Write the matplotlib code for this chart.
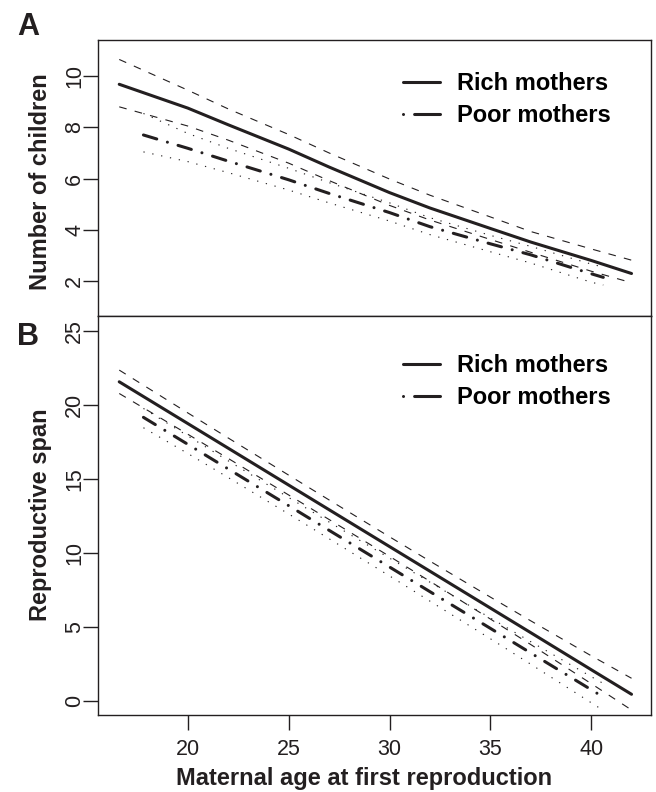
import matplotlib
matplotlib.use('Agg')
import matplotlib.pyplot as plt
from matplotlib.lines import Line2D

plt.rcParams['font.family'] = ['Liberation Sans', 'DejaVu Sans']
plt.rcParams['lines.scale_dashes'] = False

INK = '#231f20'

# Panel A: number of children vs maternal age at first reproduction
rich_age = [16.6, 20, 22, 25, 27, 30, 32, 35, 37, 40, 42]
rich_children = [9.68, 8.75, 8.10, 7.15, 6.45, 5.45, 4.85, 4.05, 3.52, 2.80, 2.29]
rich_children_hi = [10.65, 9.45, 8.72, 7.72, 7.00, 5.98, 5.35, 4.50, 3.93, 3.25, 2.81]
rich_children_lo = [8.80, 8.05, 7.50, 6.60, 5.92, 4.95, 4.38, 3.62, 3.12, 2.38, 1.93]

poor_age = [17.8, 20, 22, 25, 27, 30, 32, 35, 37, 40, 40.6]
poor_children = [7.70, 7.18, 6.68, 5.95, 5.42, 4.67, 4.12, 3.45, 3.02, 2.28, 2.14]
poor_children_hi = [8.54, 7.76, 7.18, 6.40, 5.84, 5.05, 4.47, 3.78, 3.35, 2.66, 2.54]
poor_children_lo = [7.04, 6.66, 6.23, 5.55, 5.05, 4.34, 3.81, 3.14, 2.70, 1.95, 1.84]

# Panel B: reproductive span
rich_span = [21.57, 18.75, 17.09, 14.60, 12.94, 10.45, 8.79, 6.30, 4.64, 2.14, 0.48]
rich_span_hi = [22.36, 19.47, 17.78, 15.27, 13.60, 11.11, 9.47, 7.04, 5.44, 3.08, 1.56]
rich_span_lo = [20.78, 18.03, 16.40, 13.93, 12.28, 9.79, 8.11, 5.56, 3.84, 1.20, -0.58]

poor_span = [19.17, 17.35, 15.69, 13.21, 11.55, 9.07, 7.41, 4.93, 3.27, 0.79, 0.29]
poor_span_hi = [19.77, 17.92, 16.24, 13.76, 12.11, 9.67, 8.05, 5.63, 4.03, 1.67, 1.21]
poor_span_lo = [18.47, 16.73, 15.11, 12.65, 10.98, 8.47, 6.77, 4.23, 2.51, -0.09, -0.61]

legend_labels = ['Rich mothers', 'Poor mothers']

# line styles (R-like)
solid = dict(color=INK, lw=2.2, solid_capstyle='round')
dashdot = dict(color=INK, lw=2.2, dashes=(10, 8, 0.01, 8), dash_capstyle='round')
dashed = dict(color=INK, lw=0.8, dashes=(5.5, 6))
dotted = dict(color=INK, lw=0.8, dashes=(0.9, 5.6))


def draw_panel(ax, r, r_hi, r_lo, p, p_hi, p_lo, legend_top):
    ax.plot(rich_age, r_hi, **dashed)
    ax.plot(rich_age, r_lo, **dashed)
    ax.plot(poor_age, p_hi, **dotted)
    ax.plot(poor_age, p_lo, **dotted)
    ax.plot(rich_age, r, **solid)
    ax.plot(poor_age, p, **dashdot)
    for s in ax.spines.values():
        s.set_linewidth(1.0)
        s.set_color(INK)
    ax.set_xlim(15.56, 42.95)
    ax.tick_params(axis='both', length=11, width=1.0, color=INK,
                   labelsize=15.5, labelcolor=INK)
    ax.tick_params(axis='y', labelrotation=90, pad=-1.5)
    for lab in ax.get_yticklabels():
        lab.set_va('center')
    handles = [Line2D([], [], **solid),
               Line2D([], [], color=INK, lw=2.2, dashes=(0.01, 8, 20, 8),
                      dash_capstyle='round')]
    ax.legend(handles, legend_labels, frameon=False, loc='upper left',
              prop=dict(size=17, weight='bold'), handlelength=1.55,
              handletextpad=0.75, labelspacing=0.38, borderpad=0,
              borderaxespad=0, bbox_to_anchor=(0.5516, legend_top))


fig = plt.figure(figsize=(6.56, 7.92), dpi=100)
axA = fig.add_axes([0.1498, 0.6010, 0.8421, 0.3485])
axB = fig.add_axes([0.1498, 0.0972, 0.8421, 0.5038])

draw_panel(axA, rich_children, rich_children_hi, rich_children_lo,
           poor_children, poor_children_hi, poor_children_lo, 0.883)
axA.set_ylim(0.63, 11.41)
axA.set_yticks([2, 4, 6, 8, 10])
axA.set_xticks([])

draw_panel(axB, rich_span, rich_span_hi, rich_span_lo,
           poor_span, poor_span_hi, poor_span_lo, 0.905)
axB.set_ylim(-0.92, 26.01)
axB.set_yticks([0, 5, 10, 15, 20, 25])
axB.set_xticks([20, 25, 30, 35, 40])
axB.tick_params(axis='x', pad=6)

W, H = 656, 792
fig.text(17 / W, 1 - 35 / H, 'A', fontsize=22, fontweight='bold', color=INK)
fig.text(17 / W, 1 - 345 / H, 'B', fontsize=22, fontweight='bold', color=INK)
fig.text(47 / W, 1 - 182 / H, 'Number of children', rotation=90,
         rotation_mode='anchor', ha='center', va='baseline',
         fontsize=17, fontweight='bold', color=INK)
fig.text(47 / W, 1 - 515 / H, 'Reproductive span', rotation=90,
         rotation_mode='anchor', ha='center', va='baseline',
         fontsize=17, fontweight='bold', color=INK)
fig.text(364 / W, 1 - 785 / H, 'Maternal age at first reproduction',
         ha='center', va='baseline', fontsize=17, fontweight='bold', color=INK)

fig.savefig('out.png', dpi=100)
